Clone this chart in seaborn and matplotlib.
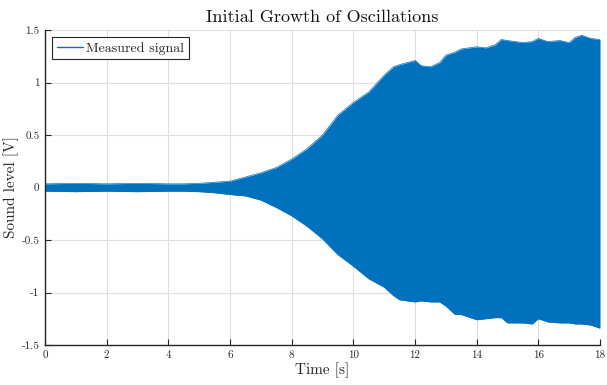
import numpy as np
import pandas as pd
import matplotlib
matplotlib.use('Agg')
import matplotlib.pyplot as plt
import seaborn as sns
from matplotlib.lines import Line2D

# envelope of the measured signal
time_s = [0, 1, 2, 3, 4, 4.5, 5, 5.5, 6, 6.5, 7, 7.5, 8, 8.5, 9, 9.5, 10, 10.5, 11, 11.3, 11.5,
          12, 12.2, 12.5, 12.8, 13, 13.3, 13.5, 14, 14.3, 14.6, 14.8, 15, 15.5, 15.8, 16, 16.3,
          16.7, 17, 17.2, 17.4, 17.7, 18]
upper_v = [0.035, 0.04, 0.035, 0.04, 0.035, 0.035, 0.04, 0.05, 0.06, 0.10, 0.14, 0.19, 0.27, 0.37, 0.50, 0.69,
           0.81, 0.91, 1.07, 1.15, 1.17, 1.21, 1.16, 1.15, 1.19, 1.26, 1.29, 1.32, 1.34, 1.33, 1.36,
           1.41, 1.40, 1.38, 1.39, 1.42, 1.39, 1.40, 1.38, 1.43, 1.45, 1.42, 1.41]
lower_v = [-0.035, -0.04, -0.035, -0.04, -0.035, -0.035, -0.04, -0.05, -0.067, -0.08, -0.12, -0.19, -0.27, -0.37,
           -0.49, -0.64, -0.75, -0.87, -0.95, -1.03, -1.07, -1.09, -1.08, -1.09, -1.09, -1.13, -1.21,
           -1.21, -1.26, -1.25, -1.24, -1.24, -1.29, -1.29, -1.30, -1.25, -1.28, -1.29, -1.29, -1.30,
           -1.30, -1.31, -1.34]

df = pd.DataFrame({'t': time_s, 'up': upper_v, 'lo': lower_v})

sns.set_theme(style='whitegrid')
plt.rcParams['font.family'] = ['cmr10', 'DejaVu Serif']
plt.rcParams['axes.unicode_minus'] = False
plt.rcParams['mathtext.fontset'] = 'cm'

blue = '#0072BD'
fig = plt.figure(figsize=(6.07, 3.85), dpi=100)
ax = fig.add_axes([0.0741, 0.1039, 0.9144, 0.8181])

ax.fill_between(df['t'], df['lo'], df['up'], color=blue, linewidth=0)
sns.lineplot(data=df, x='t', y='up', color=blue, linewidth=0.5, ax=ax)
sns.lineplot(data=df, x='t', y='lo', color=blue, linewidth=0.5, ax=ax)

ax.set_xlim(0, 18)
ax.set_ylim(-1.5, 1.5)
ax.set_xticks(np.arange(0, 19, 2))
ax.set_yticks([-1.5, -1, -0.5, 0, 0.5, 1, 1.5])
ax.set_yticklabels(['-1.5', '-1', '-0.5', '0', '0.5', '1', '1.5'])

ax.grid(True, color='#dfdfdf', linewidth=0.8)
ax.set_facecolor('white')
for s in ['top', 'right']:
    ax.spines[s].set_visible(False)
for s in ['left', 'bottom']:
    ax.spines[s].set_visible(True)
    ax.spines[s].set_color('#262626')
    ax.spines[s].set_linewidth(1.0)
ax.tick_params(direction='in', length=4, width=0.8, color='#262626',
               labelsize=8, labelcolor='#262626', left=True, bottom=True, pad=4)

ax.set_title('Initial Growth of Oscillations', fontsize=13, color='#111111', pad=6)
ax.set_xlabel('Time [s]', fontsize=11, color='#262626', labelpad=2)
ax.set_ylabel('Sound level [V]', fontsize=11, color='#262626', labelpad=2)

handle = Line2D([0], [0], color=blue, linewidth=1.0)
leg = ax.legend([handle], ['Measured signal'], loc='upper left', fontsize=10,
                frameon=True, fancybox=False, handlelength=1.9, handletextpad=0.2,
                borderpad=0.35, borderaxespad=0.5)
leg.get_frame().set_edgecolor('#262626')
leg.get_frame().set_linewidth(0.8)
leg.get_frame().set_alpha(1)

fig.savefig('out.png', dpi=100)
